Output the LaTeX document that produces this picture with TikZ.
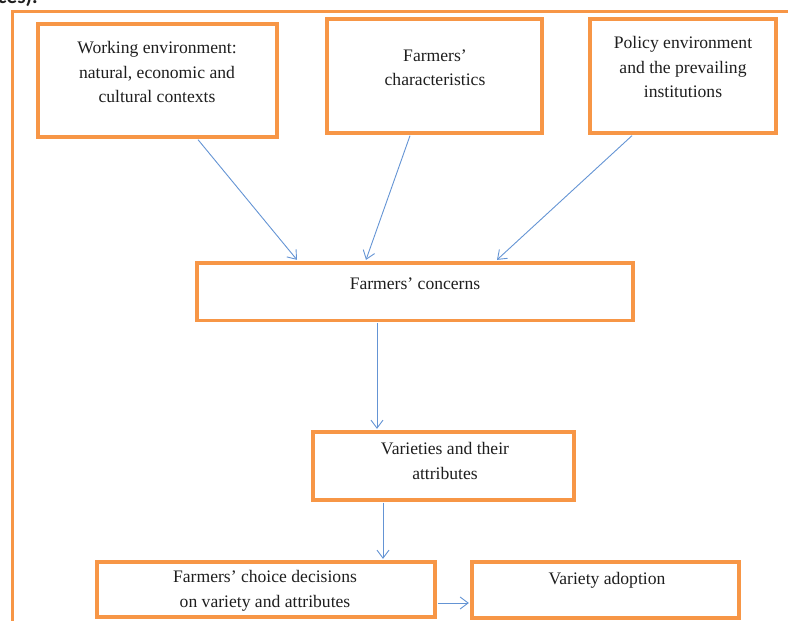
\documentclass[tikz,border=0pt]{standalone}
\usepackage{fontspec}
\setmainfont{Liberation Serif}
\newfontfamily\diagserif{Liberation Serif}
\newfontfamily\capfont{Carlito}
\usetikzlibrary{arrows.meta,calc}
\definecolor{boxorange}{RGB}{247,150,70}
\definecolor{arrowblue}{RGB}{100,148,212}
\definecolor{txtgray}{RGB}{30,30,30}
\tikzset{
  box/.style={draw=boxorange, line width=3.3pt, rectangle, inner sep=0pt},
  txt/.style={align=center, text=txtgray, inner sep=0pt,
    font=\diagserif\mdseries\upshape\fontsize{17.6}{24.5}\selectfont},
  conn/.style={draw=arrowblue, line width=0.9pt,
    -{Straight Barb[length=8pt,width=12pt,line width=0.9pt]}}
}
\begin{document}
\begin{tikzpicture}[x=1pt,y=-1pt]
\useasboundingbox (0,0) rectangle (788,621);
\clip (0,0) rectangle (788,621);
% outer frame (continues beyond the picture)
\draw[draw=boxorange, line width=3pt] (12,660) -- (12,11) -- (830,11);
% boxes
\node[box, minimum width=239pt, minimum height=113pt] (b1) at (157.5,80.5) {};
\node[box, minimum width=215pt, minimum height=114pt] (b2) at (434.5,76) {};
\node[box, minimum width=186pt, minimum height=114pt] (b3) at (683,76) {};
\node[box, minimum width=436pt, minimum height=57.5pt] (cc) at (415,291.75) {};
\node[box, minimum width=261pt, minimum height=68pt] (va) at (443.5,466) {};
\node[box, minimum width=338pt, minimum height=55pt] (ch) at (266,589.5) {};
\node[box, minimum width=267pt, minimum height=56pt] (ad) at (605.5,590) {};
% texts
\node[txt] (t1) at (157,72) {Working environment:\\natural, economic and\\cultural contexts};
\node[txt] (t2) at (435,67.5) {Farmers’\\characteristics};
\node[txt] (t3) at (683,67) {Policy environment\\and the prevailing\\institutions};
\node[txt] (t4) at (415,284) {Farmers’ concerns};
\node[txt] (t5) at (445,461) {Varieties and their\\attributes};
\node[txt] (t6) at (265,591) {Farmers’ choice decisions\\on variety and attributes};
\node[txt] (t7) at (607,580) {Variety adoption};
% connectors
\draw[conn] ([xshift=40.5pt,yshift=-1pt]b1.south) -- ([xshift=-118pt,yshift=1.5pt]cc.north);
\draw[conn] ([xshift=-24.5pt,yshift=-1pt]b2.south) -- ([xshift=-49pt,yshift=1.5pt]cc.north);
\draw[conn] ([xshift=-51pt,yshift=-1pt]b3.south) -- ([xshift=82pt,yshift=1.5pt]cc.north);
\draw[conn] ([xshift=-38pt,yshift=-1pt]cc.south) -- ([xshift=-66.5pt,yshift=1.5pt]va.north);
\draw[conn] ([xshift=-60.5pt,yshift=-1pt]va.south) -- ([xshift=117pt,yshift=1.5pt]ch.north);
\draw[conn] ([xshift=1.5pt,yshift=-13.5pt]ch.east) -- ([xshift=-1.5pt,yshift=-13pt]ad.west);
% cut-off caption text at top
\node[anchor=base east, inner sep=0pt, font=\capfont\fontsize{21}{24}\selectfont\bfseries, text=txtgray] (cap) at (38,4) {ces).};
\end{tikzpicture}
\end{document}
